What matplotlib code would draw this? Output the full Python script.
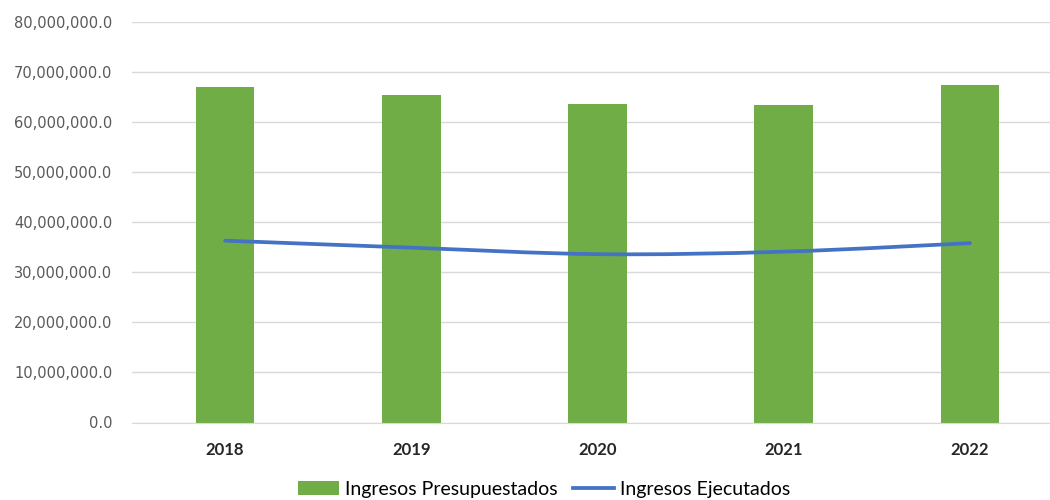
import numpy as np
import matplotlib.pyplot as plt
from matplotlib.path import Path
from matplotlib.patches import PathPatch
from matplotlib.ticker import FuncFormatter
from matplotlib.lines import Line2D
from matplotlib.patches import Patch

years = ['2018', '2019', '2020', '2021', '2022']
presupuestados = [67.0e6, 65.3e6, 63.5e6, 63.3e6, 67.3e6]
ejecutados = [36.3e6, 34.9e6, 33.6e6, 34.1e6, 35.8e6]

green = '#70AD47'
blue = '#4472C4'

fig = plt.figure(figsize=(10.5, 5), dpi=100)
ax = fig.add_axes([132 / 1050, 1 - 422.5 / 500, 931 / 1050, 400.8 / 500])

x = np.arange(len(years))
ax.bar(x, presupuestados, width=0.315, color=green, zorder=2)

# smooth line (Excel-like cubic bezier)
pts = np.column_stack([x, ejecutados]).astype(float)
verts = [tuple(pts[0])]
codes = [Path.MOVETO]
for i in range(len(pts) - 1):
    p0 = pts[max(i - 1, 0)]
    p1 = pts[i]
    p2 = pts[i + 1]
    p3 = pts[min(i + 2, len(pts) - 1)]
    c1 = p1 + (p2 - p0) / 6
    c2 = p2 - (p3 - p1) / 6
    verts += [tuple(c1), tuple(c2), tuple(p2)]
    codes += [Path.CURVE4] * 3
ax.add_patch(PathPatch(Path(verts, codes), facecolor='none', edgecolor=blue,
                       lw=2.7, capstyle='round', zorder=3))

ax.set_xlim(-0.5, 4.5)
ax.set_ylim(0, 80e6)
ax.set_yticks(np.arange(0, 80e6 + 1, 10e6))
ax.yaxis.set_major_formatter(FuncFormatter(lambda v, p: f'{v:,.1f}'))
ax.grid(axis='y', color='#D9D9D9', lw=1, zorder=0)
ax.set_axisbelow(True)
for s in ['top', 'right', 'left']:
    ax.spines[s].set_visible(False)
ax.spines['bottom'].set_color('#D9D9D9')
ax.tick_params(axis='both', length=0)
ax.tick_params(axis='y', labelsize=10.5, labelcolor='#595959', pad=14)
ax.set_xticks(x)
ax.set_xticklabels(years, fontfamily='Lato', fontweight='bold', fontsize=12, color='#262626')
ax.tick_params(axis='x', pad=14)

handles = [Patch(facecolor=green, label='Ingresos Presupuestados'),
           Line2D([0], [0], color=blue, lw=2.7, label='Ingresos Ejecutados')]
fig.legend(handles=handles, loc='center', bbox_to_anchor=(544 / 1050, 1 - 489 / 500),
           ncol=2, frameon=False, prop={'family': 'Lato', 'size': 14},
           handlelength=2.1, handletextpad=0.3, columnspacing=0.8)

fig.savefig('out.png', dpi=100)
